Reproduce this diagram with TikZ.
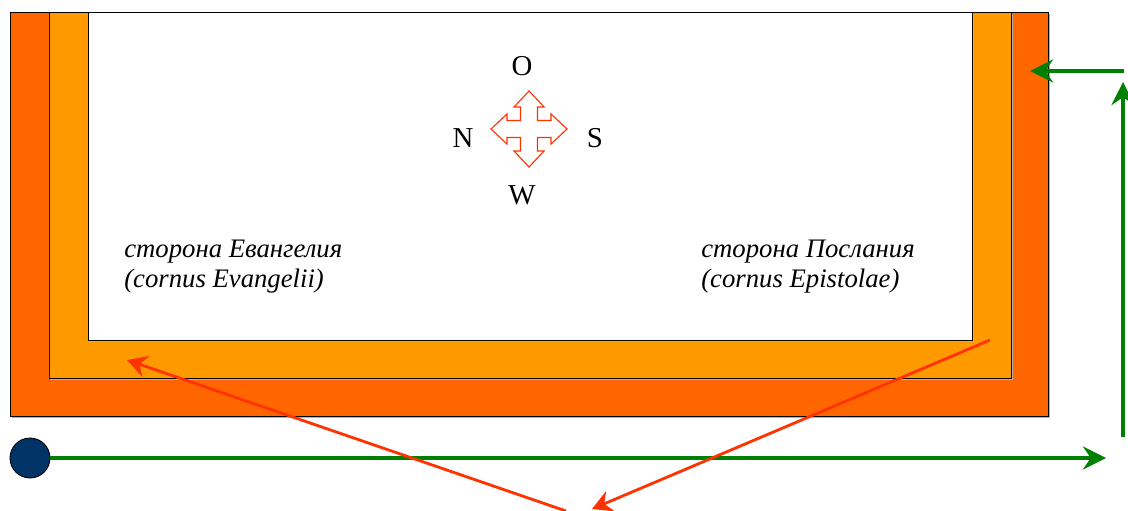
\documentclass[tikz,border=0pt]{standalone}
\usepackage{fontspec}
\setmainfont{Liberation Serif}
\usetikzlibrary{arrows.meta,positioning}
\usepackage{xcolor}

\definecolor{altarred}{RGB}{255,102,0}
\definecolor{altarorange}{RGB}{255,153,0}
\definecolor{walkgreen}{RGB}{0,128,0}
\definecolor{pointred}{RGB}{255,51,0}
\definecolor{startblue}{RGB}{0,51,102}

\begin{document}
\begin{tikzpicture}[x=0.025cm,y=-0.025cm,
    layer/.style={draw=black,line width=0.6pt},
    walk/.style={walkgreen,line width=2.2pt,-{Stealth[length=0.58cm,width=0.58cm,inset=0.2cm]}},
    point/.style={pointred,line width=2pt,-{Stealth[length=0.5cm,width=0.55cm,inset=0.17cm]}},
    side/.style={font=\fontsize{19}{21.3}\selectfont\itshape,align=left,anchor=north west,inner sep=0pt},
    wind/.style={font=\fontsize{20.5}{24}\selectfont,inner sep=0pt}]
            \useasboundingbox (0,0) rectangle (1128,511);
            \def\outerrect{(10,12) rectangle (1048,416)}
            \def\midrect{(49,12) rectangle (1011,378)}
            \def\innerrect{(88,12) rectangle (972,340)}

            % the three steps, with a bit of shadow
            \begin{scope}[gray!60]
                \fill[shift={(2,2)}] \outerrect;
            \end{scope}
            \filldraw[layer,fill=altarred] \outerrect;
            \fill[gray!60,shift={(2,2)}] \midrect;
            \filldraw[layer,fill=altarorange] \midrect;
            \fill[gray!60,shift={(2,2)}] \innerrect;
            \filldraw[layer,fill=white] \innerrect;

            % compass
            \coordinate (compass) at (529,129);
            \draw[pointred,line width=0.8pt,fill=white,shift={(compass)}]
                (0,-38) -- (15,-22) -- (8.5,-22) -- (8.5,-8.5) -- (22,-8.5) -- (22,-15)
                -- (38,0) -- (22,15) -- (22,8.5) -- (8.5,8.5) -- (8.5,22) -- (15,22)
                -- (0,38) -- (-15,22) -- (-8.5,22) -- (-8.5,8.5) -- (-22,8.5) -- (-22,15)
                -- (-38,0) -- (-22,-15) -- (-22,-8.5) -- (-8.5,-8.5) -- (-8.5,-22) -- (-15,-22)
                -- cycle;
            \node[wind] (east) at (522,66) {O};
            \node[wind] (north) at (463,138) {N};
            \node[wind] (south) at (595,138) {S};
            \node[wind] (west) at (522,195) {W};

            \node[side] (gospel) at (124,240) {сторона Евангелия\\(cornus Evangelii)};
            \node[side] (epistle) at (701,240) {сторона Послания\\(cornus Epistolae)};

            % walking path
            \node[circle,draw=black,line width=0.6pt,fill=startblue,minimum size=1cm,inner sep=0pt] (start) at (30,458) {};
            \coordinate (walkend) at (1106,458);
            \coordinate (risefoot) at (1123,437);
            \coordinate (risetop) at (1123,82);
            \coordinate (turnfoot) at (1124,71);
            \coordinate (turnend) at (1030,71);
            \draw[walk] (start) -- (walkend);
            \draw[walk] (risefoot) -- (risetop);
            \draw[walk] (turnfoot) -- (turnend);

            % pointers to the two sides
            \coordinate (epistlecorner) at (990,340);
            \coordinate (bottommid) at (592,509);
            \coordinate (belowmid) at (566,511);
            \coordinate (gospelcorner) at (127,360);
            \draw[point] (epistlecorner) -- (bottommid);
            \draw[point] (belowmid) -- (gospelcorner);
        \end{tikzpicture}
\end{document}
